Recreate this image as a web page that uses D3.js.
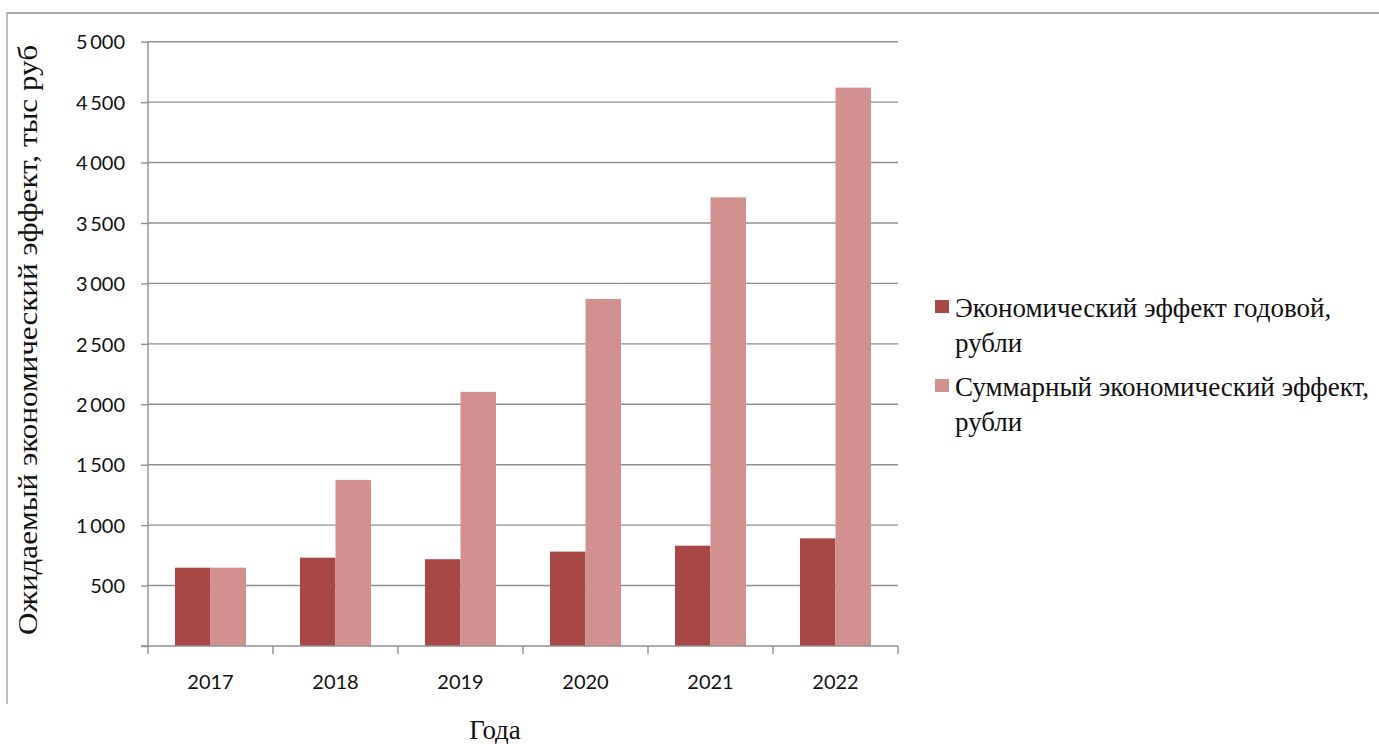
<!DOCTYPE html>
<html>
<head>
<meta charset="utf-8">
<script src="https://cdn.jsdelivr.net/npm/d3@7"></script>
<style>
  html, body { margin: 0; padding: 0; background: #fff; }
  svg { display: block; }
</style>
</head>
<body>
<svg id="chart" width="1379" height="744"></svg>
<script>
const categories = ["2017", "2018", "2019", "2020", "2021", "2022"];
const seriesNames = ["Экономический эффект годовой, рубли", "Суммарный экономический эффект, рубли"];
const annualValues = [648, 731, 718, 781, 830, 891];
const totalValues = [648, 1374, 2103, 2872, 3712, 4620];
const yTicks = [500, 1000, 1500, 2000, 2500, 3000, 3500, 4000, 4500, 5000];
const legendLines = [["Экономический эффект годовой,", "рубли"], ["Суммарный экономический эффект,", "рубли"]];
const yTitle = "Ожидаемый экономический эффект, тыс руб";
const xTitle = "Года";
const colors = ["#a84846", "#d29190"];

const svg = d3.select("#chart");
const plotLeft = 148, plotRight = 898, plotTop = 41.7, plotBottom = 646;
const serif = "'Liberation Serif', 'Times New Roman', serif";

// outer frame (top and left only)
svg.append("line").attr("x1", 7).attr("x2", 1379).attr("y1", 13).attr("y2", 13)
  .attr("stroke", "#a8a8a8").attr("stroke-width", 2);
svg.append("line").attr("x1", 7).attr("x2", 7).attr("y1", 12).attr("y2", 704)
  .attr("stroke", "#a8a8a8").attr("stroke-width", 1.5);

const x0 = d3.scaleBand().domain(categories).range([plotLeft, plotRight]).padding(0);
const x1 = d3.scaleBand().domain([0, 1]).range([0, x0.bandwidth()]).paddingInner(0).paddingOuter(0.76);
const y = d3.scaleLinear().domain([0, 5000]).range([plotBottom, plotTop]);

// gridlines
svg.append("g").selectAll("line").data(yTicks).join("line")
  .attr("x1", plotLeft).attr("x2", plotRight)
  .attr("y1", d => y(d)).attr("y2", d => y(d))
  .attr("stroke", "#8f8f8f").attr("stroke-width", 1.4);

// bars
const data = categories.map((c, i) => ({ c, v: [annualValues[i], totalValues[i]] }));
const groups = svg.append("g").selectAll("g").data(data).join("g")
  .attr("transform", d => `translate(${x0(d.c)},0)`);
groups.selectAll("rect").data(d => d.v.map((v, k) => ({ v, k }))).join("rect")
  .attr("x", d => x1(d.k)).attr("width", x1.bandwidth())
  .attr("y", d => y(d.v)).attr("height", d => plotBottom - y(d.v))
  .attr("fill", d => colors[d.k]);

// y axis
const yAxis = svg.append("g").attr("transform", `translate(${plotLeft},0)`)
  .call(d3.axisLeft(y).tickValues([0, ...yTicks]).tickSize(7).tickPadding(16)
    .tickFormat(d => d === 0 ? "" : d3.format(",")(d).replace(",", "\u2009")));
yAxis.select(".domain").attr("stroke", "#8f8f8f").attr("stroke-width", 1.4).attr("d", `M-0,${plotTop}V${plotBottom}`);
yAxis.selectAll(".tick line").attr("stroke", "#8f8f8f").attr("stroke-width", 1.4);
yAxis.selectAll(".tick text").attr("font-family", "Lato, 'Open Sans', sans-serif")
  .attr("font-size", 20).attr("fill", "#111").attr("dy", "0.36em");

// x axis (ticks at category boundaries)
const xAxisG = svg.append("g").attr("transform", `translate(0,${plotBottom})`);
const boundaries = categories.map(c => x0(c)).concat([plotRight]);
xAxisG.append("line").attr("x1", plotLeft - 7).attr("x2", plotRight).attr("y1", 0).attr("y2", 0)
  .attr("stroke", "#8f8f8f").attr("stroke-width", 1.4);
xAxisG.selectAll("line.tk").data(boundaries).join("line").attr("class", "tk")
  .attr("x1", d => d).attr("x2", d => d).attr("y1", 0).attr("y2", 8)
  .attr("stroke", "#8f8f8f").attr("stroke-width", 1.4);
xAxisG.selectAll("text").data(categories).join("text")
  .attr("x", d => x0(d) + x0.bandwidth() / 2).attr("y", 43)
  .attr("text-anchor", "middle")
  .attr("font-family", "Lato, 'Open Sans', sans-serif").attr("font-size", 20).attr("fill", "#111")
  .text(d => d);

// axis titles
svg.append("text")
  .attr("transform", `translate(37,340) rotate(-90)`)
  .attr("text-anchor", "middle")
  .attr("font-family", serif)
  .attr("font-size", 27).attr("fill", "#111")
  .attr("textLength", 590).attr("lengthAdjust", "spacingAndGlyphs")
  .text(yTitle);
svg.append("text")
  .attr("x", 495).attr("y", 739)
  .attr("text-anchor", "middle")
  .attr("font-family", serif)
  .attr("font-size", 27).attr("fill", "#111")
  .text(xTitle);

// legend
const legendTop = [300, 379];
const lg = svg.append("g").selectAll("g").data(seriesNames).join("g")
  .attr("transform", (d, i) => `translate(935,${legendTop[i]})`);
lg.append("rect").attr("width", 14).attr("height", 13).attr("fill", (d, i) => colors[i]);
lg.each(function (d, i) {
  const g = d3.select(this);
  legendLines[i].forEach((ln, j) => {
    g.append("text").attr("x", 20).attr("y", 17 + j * 35)
      .attr("font-family", serif)
      .attr("font-size", 27).attr("fill", "#111")
      .text(ln);
  });
});
</script>
</body>
</html>
